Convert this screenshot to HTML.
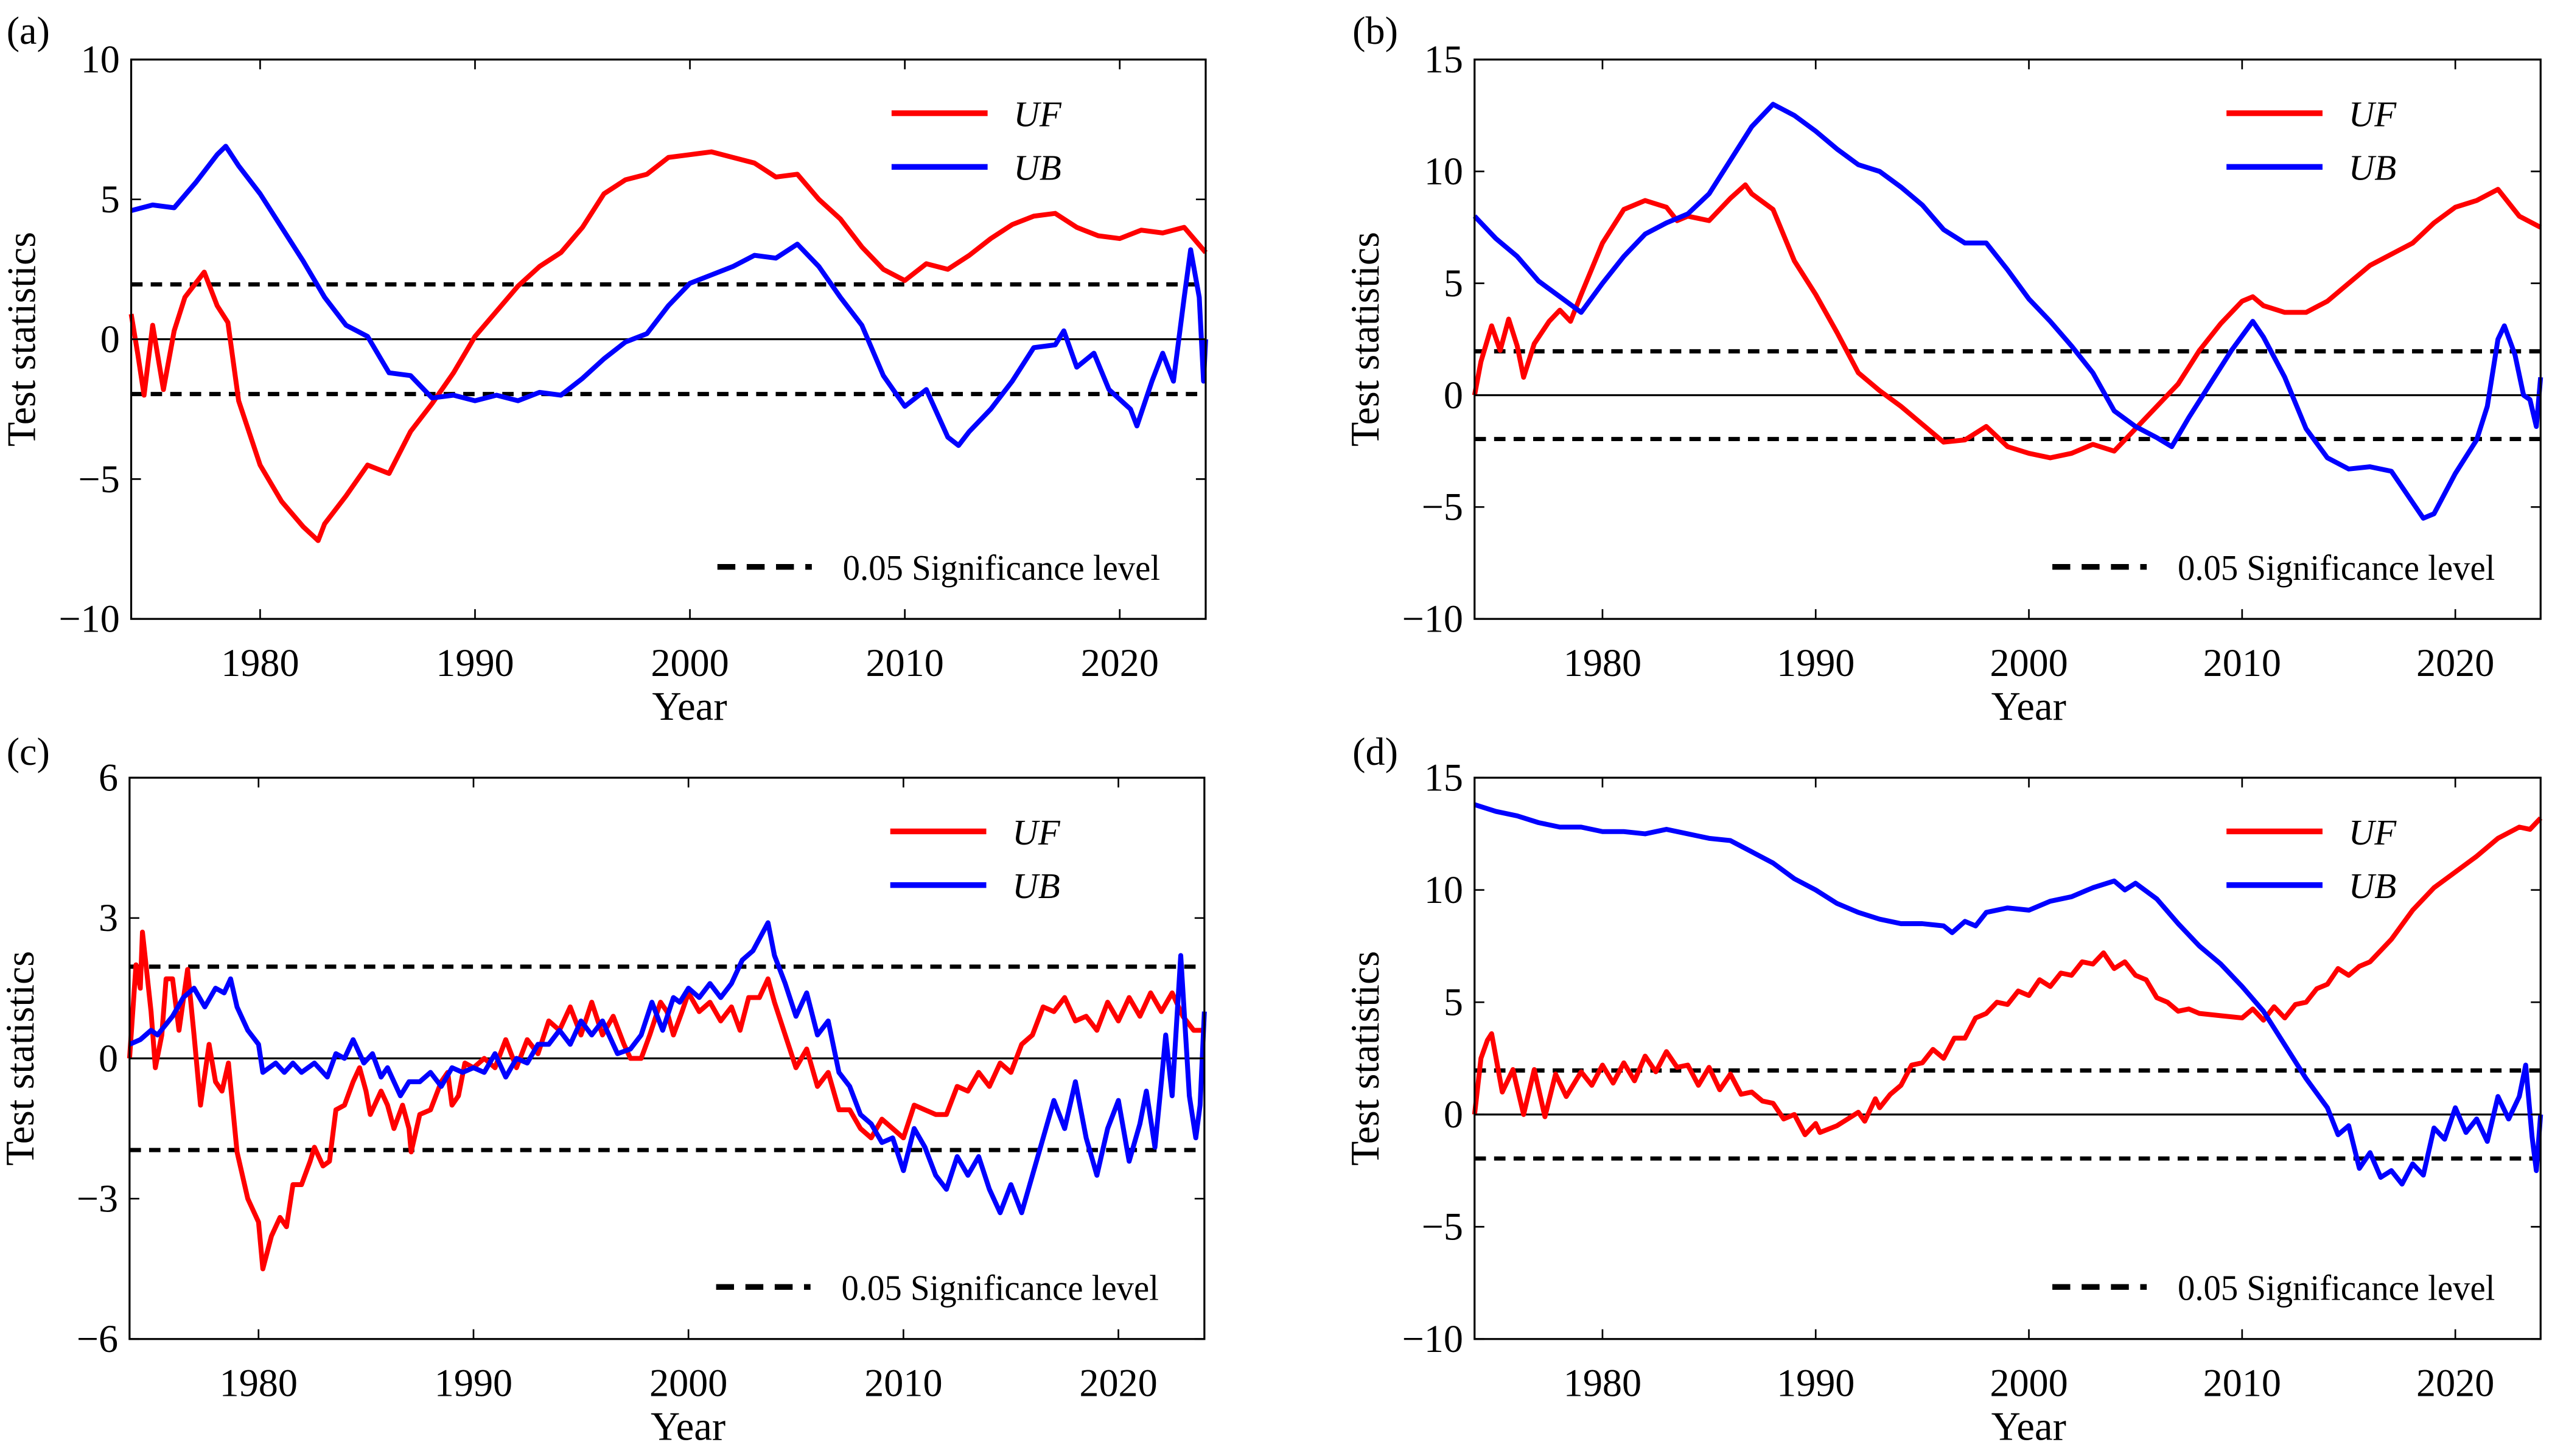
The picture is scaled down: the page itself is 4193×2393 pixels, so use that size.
<!DOCTYPE html>
<html><head><meta charset="utf-8"><style>
html,body{margin:0;padding:0;background:#fff;}
svg{display:block;font-family:"Liberation Serif","DejaVu Serif",serif;}
text{font-family:"Liberation Serif","DejaVu Serif",serif;fill:#000;}
</style></head><body>
<svg id="fig" width="4193" height="2393" viewBox="0 0 1568 894.9" preserveAspectRatio="none" font-family="Liberation Serif, DejaVu Serif, serif" xmlns="http://www.w3.org/2000/svg"></svg>
<script>
// ---------- data ----------
const xTicks = [1980, 1990, 2000, 2010, 2020];
const aYTicks = [-10, -5, 0, 5, 10];
const bYTicks = [-10, -5, 0, 5, 10, 15];
const cYTicks = [-6, -3, 0, 3, 6];
const dYTicks = [-10, -5, 0, 5, 10, 15];
const sigLevel = 1.96;

const aUFx = [1974,1974.3,1974.6,1975,1975.5,1976,1976.5,1977,1977.4,1978,1978.5,1979,1980,1981,1982,1982.7,1983,1983.5,1984,1985,1986,1987,1988,1989,1990,1991,1992,1993,1994,1995,1996,1997,1998,1999,2000,2001,2002,2003,2004,2005,2006,2007,2008,2009,2010,2011,2012,2013,2014,2015,2016,2017,2018,2019,2020,2021,2022,2023,2024];
const aUFy = [0.9,-0.5,-2,0.5,-1.8,0.3,1.5,2,2.4,1.2,0.6,-2.2,-4.5,-5.8,-6.7,-7.2,-6.6,-6.1,-5.6,-4.5,-4.8,-3.3,-2.3,-1.2,0.1,1.0,1.9,2.6,3.1,4.0,5.2,5.7,5.9,6.5,6.6,6.7,6.5,6.3,5.8,5.9,5.0,4.3,3.3,2.5,2.1,2.7,2.5,3.0,3.6,4.1,4.4,4.5,4.0,3.7,3.6,3.9,3.8,4.0,3.1];
const aUBx = [1974,1975,1976,1977,1978,1978.4,1979,1980,1981,1982,1983,1984,1985,1986,1987,1988,1989,1990,1991,1992,1993,1994,1995,1996,1997,1998,1999,2000,2001,2002,2003,2004,2005,2006,2007,2008,2009,2010,2011,2012,2012.5,2013,2014,2015,2016,2017,2017.4,2018,2018.8,2019.5,2020.5,2020.8,2021.5,2022,2022.5,2023,2023.3,2023.7,2023.9,2024];
const aUBy = [4.6,4.8,4.7,5.6,6.6,6.9,6.2,5.2,4.0,2.8,1.5,0.5,0.1,-1.2,-1.3,-2.1,-2.0,-2.2,-2.0,-2.2,-1.9,-2.0,-1.4,-0.7,-0.1,0.2,1.2,2.0,2.3,2.6,3.0,2.9,3.4,2.6,1.5,0.5,-1.3,-2.4,-1.8,-3.5,-3.8,-3.3,-2.5,-1.5,-0.3,-0.2,0.3,-1.0,-0.5,-1.8,-2.5,-3.1,-1.5,-0.5,-1.5,1.5,3.2,1.5,-1.5,0];

const bUFx = [1974,1974.3,1974.8,1975.2,1975.6,1976,1976.3,1976.8,1977.5,1978,1978.5,1979,1980,1981,1982,1983,1983.5,1984,1985,1986,1986.7,1987,1988,1989,1990,1991,1992,1993,1994,1995,1996,1997,1998,1999,2000,2001,2002,2003,2004,2005,2006,2007,2008,2009,2010,2010.5,2011,2012,2013,2014,2015,2016,2017,2018,2019,2020,2021,2022,2023,2024];
const bUFy = [0,1.5,3.1,2.0,3.4,2.2,0.8,2.3,3.3,3.8,3.3,4.5,6.8,8.3,8.7,8.4,7.8,8.0,7.8,8.8,9.4,9.0,8.3,6.0,4.5,2.8,1.0,0.2,-0.5,-1.3,-2.1,-2.0,-1.4,-2.3,-2.6,-2.8,-2.6,-2.2,-2.5,-1.5,-0.5,0.5,2.0,3.2,4.2,4.4,4.0,3.7,3.7,4.2,5.0,5.8,6.3,6.8,7.7,8.4,8.7,9.2,8.0,7.5];
const bUBx = [1974,1975,1976,1977,1978,1979,1980,1981,1982,1983,1984,1985,1986,1987,1988,1989,1990,1991,1992,1993,1994,1995,1996,1997,1998,1999,2000,2001,2002,2003,2004,2005,2006,2006.7,2007.5,2008.5,2009.5,2010.5,2011,2012,2013,2014,2015,2016,2017,2018,2018.5,2019,2020,2021,2021.5,2022,2022.3,2022.8,2023.2,2023.5,2023.8,2024];
const bUBy = [8.0,7.0,6.2,5.1,4.4,3.7,5.0,6.2,7.2,7.7,8.1,9.0,10.5,12.0,13.0,12.5,11.8,11.0,10.3,10.0,9.3,8.5,7.4,6.8,6.8,5.6,4.3,3.3,2.2,1.0,-0.7,-1.4,-1.9,-2.3,-1.0,0.5,2.0,3.3,2.6,0.8,-1.5,-2.8,-3.3,-3.2,-3.4,-4.8,-5.5,-5.3,-3.5,-2.0,-0.5,2.5,3.1,1.8,0,-0.2,-1.4,0.8];

const cUFx = [1974,1974.3,1974.5,1974.6,1975,1975.2,1975.5,1975.7,1976,1976.3,1976.7,1977,1977.3,1977.7,1978,1978.3,1978.6,1979,1979.5,1980,1980.2,1980.6,1981,1981.3,1981.6,1982,1982.4,1982.6,1983,1983.3,1983.6,1984,1984.4,1984.7,1985,1985.2,1985.7,1986,1986.3,1986.7,1987,1987.1,1987.5,1988,1988.5,1988.8,1989,1989.3,1989.6,1990,1990.5,1991,1991.5,1992,1992.5,1993,1993.5,1994,1994.5,1995,1995.5,1996,1996.5,1997,1997.3,1997.8,1998.2,1998.7,1999,1999.3,1999.7,2000,2000.5,2001,2001.5,2002,2002.4,2002.8,2003.3,2003.7,2004,2004.5,2005,2005.5,2006,2006.5,2007,2007.5,2008,2008.5,2009,2009.5,2010,2010.5,2011,2011.5,2012,2012.5,2013,2013.5,2014,2014.5,2015,2015.5,2016,2016.5,2017,2017.5,2018,2018.5,2019,2019.5,2020,2020.5,2021,2021.5,2022,2022.5,2023,2023.5,2024];
const cUFy = [0,2.0,1.5,2.7,1.0,-0.2,0.5,1.7,1.7,0.6,1.9,0.5,-1.0,0.3,-0.5,-0.7,-0.1,-2.0,-3.0,-3.5,-4.5,-3.8,-3.4,-3.6,-2.7,-2.7,-2.2,-1.9,-2.3,-2.2,-1.1,-1.0,-0.5,-0.2,-0.7,-1.2,-0.7,-1.0,-1.5,-1.0,-1.5,-2.0,-1.2,-1.1,-0.5,-0.3,-1.0,-0.8,-0.1,-0.2,0.0,-0.2,0.4,-0.2,0.4,0.1,0.8,0.6,1.1,0.5,1.2,0.5,0.9,0.3,0.0,0.0,0.5,1.2,1.0,0.5,1.0,1.4,1.0,1.2,0.8,1.1,0.6,1.3,1.3,1.7,1.2,0.5,-0.2,0.2,-0.6,-0.3,-1.1,-1.1,-1.5,-1.7,-1.3,-1.5,-1.7,-1.0,-1.1,-1.2,-1.2,-0.6,-0.7,-0.3,-0.6,-0.1,-0.3,0.3,0.5,1.1,1.0,1.3,0.8,0.9,0.6,1.2,0.8,1.3,0.9,1.4,1.0,1.4,0.9,0.6,0.6];
const cUBx = [1974,1974.5,1975,1975.3,1976,1976.5,1977,1977.5,1978,1978.4,1978.7,1979,1979.5,1980,1980.2,1980.8,1981.2,1981.6,1982,1982.6,1983.2,1983.6,1984,1984.4,1984.9,1985.3,1985.7,1986,1986.6,1987,1987.5,1988,1988.5,1989,1989.5,1990,1990.5,1991,1991.5,1992,1992.5,1993,1993.5,1994,1994.5,1995,1995.5,1996,1996.7,1997.3,1997.8,1998.3,1998.8,1999.3,1999.6,2000,2000.5,2001,2001.5,2002,2002.5,2003,2003.7,2004,2004.5,2005,2005.5,2006,2006.5,2007,2007.5,2008,2008.5,2009,2009.5,2010,2010.5,2011,2011.5,2012,2012.5,2013,2013.5,2014,2014.5,2015,2015.5,2016,2016.5,2017,2017.5,2018,2018.5,2019,2019.5,2020,2020.5,2021,2021.3,2021.7,2022,2022.2,2022.5,2022.9,2023.3,2023.6,2023.8,2024];
const cUBy = [0.3,0.4,0.6,0.5,0.9,1.3,1.5,1.1,1.5,1.4,1.7,1.1,0.6,0.3,-0.3,-0.1,-0.3,-0.1,-0.3,-0.1,-0.4,0.1,0.0,0.4,-0.1,0.1,-0.4,-0.2,-0.8,-0.5,-0.5,-0.3,-0.6,-0.2,-0.3,-0.2,-0.3,0.1,-0.4,0.0,-0.1,0.3,0.3,0.6,0.3,0.8,0.5,0.8,0.1,0.2,0.5,1.2,0.6,1.3,1.2,1.5,1.3,1.6,1.3,1.6,2.1,2.3,2.9,2.2,1.6,0.9,1.4,0.5,0.8,-0.3,-0.6,-1.2,-1.4,-1.8,-1.7,-2.4,-1.5,-1.9,-2.5,-2.8,-2.1,-2.5,-2.1,-2.8,-3.3,-2.7,-3.3,-2.5,-1.7,-0.9,-1.5,-0.5,-1.7,-2.5,-1.5,-0.9,-2.2,-1.4,-0.7,-1.9,-0.5,0.5,-0.8,2.2,-0.8,-1.7,-1.0,1.0];

const dUFx = [1974,1974.3,1974.6,1974.8,1975.3,1975.8,1976.3,1976.8,1977.3,1977.8,1978.3,1979,1979.5,1980,1980.5,1981,1981.5,1982,1982.5,1983,1983.5,1984,1984.5,1985,1985.5,1986,1986.5,1987,1987.5,1988,1988.5,1989,1989.5,1990,1990.2,1991,1991.5,1992,1992.3,1992.8,1993,1993.5,1994,1994.5,1995,1995.5,1996,1996.5,1997,1997.5,1998,1998.5,1999,1999.5,2000,2000.5,2001,2001.5,2002,2002.5,2003,2003.5,2004,2004.5,2005,2005.5,2006,2006.5,2007,2007.5,2008,2009,2010,2010.5,2011,2011.5,2012,2012.5,2013,2013.5,2014,2014.5,2015,2015.5,2016,2017,2018,2019,2020,2021,2022,2023,2023.5,2024];
const dUFy = [0,2.5,3.3,3.6,1.0,2.0,0,2.0,-0.1,1.8,0.8,1.9,1.3,2.2,1.4,2.3,1.5,2.6,1.9,2.8,2.1,2.2,1.3,2.1,1.1,1.8,0.9,1.0,0.6,0.5,-0.2,0,-0.9,-0.4,-0.8,-0.5,-0.2,0.1,-0.3,0.7,0.3,0.9,1.3,2.2,2.3,2.9,2.5,3.4,3.4,4.3,4.5,5.0,4.9,5.5,5.3,6.0,5.7,6.3,6.2,6.8,6.7,7.2,6.5,6.8,6.2,6.0,5.2,5.0,4.6,4.7,4.5,4.4,4.3,4.7,4.2,4.8,4.3,4.9,5.0,5.6,5.8,6.5,6.2,6.6,6.8,7.8,9.1,10.1,10.8,11.5,12.3,12.8,12.7,13.2];
const dUBx = [1974,1975,1976,1977,1978,1979,1980,1981,1982,1983,1984,1985,1986,1987,1988,1989,1990,1991,1992,1993,1994,1995,1996,1996.4,1997,1997.5,1998,1999,2000,2001,2002,2003,2004,2004.5,2005,2006,2007,2008,2009,2010,2011,2012,2013,2014,2014.5,2015,2015.5,2016,2016.5,2017,2017.5,2018,2018.5,2019,2019.5,2020,2020.5,2021,2021.5,2022,2022.5,2023,2023.3,2023.6,2023.8,2024];
const dUBy = [13.8,13.5,13.3,13.0,12.8,12.8,12.6,12.6,12.5,12.7,12.5,12.3,12.2,11.7,11.2,10.5,10.0,9.4,9.0,8.7,8.5,8.5,8.4,8.1,8.6,8.4,9.0,9.2,9.1,9.5,9.7,10.1,10.4,10.0,10.3,9.6,8.5,7.5,6.7,5.7,4.6,3.1,1.6,0.3,-0.9,-0.5,-2.4,-1.7,-2.8,-2.5,-3.1,-2.2,-2.7,-0.6,-1.1,0.3,-0.8,-0.2,-1.2,0.8,-0.2,0.8,2.2,-1.0,-2.5,0];

// ---------- drawing ----------
const NS = 'http://www.w3.org/2000/svg';
const svg = document.getElementById('fig');
const SERIF = '"Liberation Serif", "DejaVu Serif", serif';
function mk(tag, attrs, parent) {
  const e = document.createElementNS(NS, tag);
  for (const k in attrs) e.setAttribute(k, attrs[k]);
  if (tag === 'text') e.style.fontFamily = SERIF;
  (parent || svg).appendChild(e);
  return e;
}
function fmt(v){ return v < 0 ? '\u2212' + Math.abs(v) : String(v); }

const panels = [
  {id:'a', label:'(a)', L:80.6, R:740.8, T:36.6, B:380.4, yMin:-10, yMax:10, yT:aYTicks, uf:[aUFx,aUFy], ub:[aUBx,aUBy], lx:4, ly:27},
  {id:'b', label:'(b)', L:906, R:1561, T:36.6, B:380.4, yMin:-10, yMax:15, yT:bYTicks, uf:[bUFx,bUFy], ub:[bUBx,bUBy], lx:831, ly:27},
  {id:'c', label:'(c)', L:79.6, R:740, T:478, B:823, yMin:-6, yMax:6, yT:cYTicks, uf:[cUFx,cUFy], ub:[cUBx,cUBy], lx:4, ly:470},
  {id:'d', label:'(d)', L:906, R:1561, T:478, B:823, yMin:-10, yMax:15, yT:dYTicks, uf:[dUFx,dUFy], ub:[dUBx,dUBy], lx:831, ly:470}
];

panels.forEach(p => {
  const g = mk('g', {});
  
  
  const xs = v => p.L + (v - 1974) / 50 * (p.R - p.L);
  const ys = v => p.B - (v - p.yMin) / (p.yMax - p.yMin) * (p.B - p.T);

  const lab = mk('text', {x:p.lx, y:p.ly, 'font-size':24}, g);
  lab.textContent = p.label;
  
  

  const z = mk('line', {x1:p.L, x2:p.R, y1:ys(0), y2:ys(0), stroke:'#000', 'stroke-width':1.2}, g);
  
  
  [sigLevel, -sigLevel].forEach(s => {
    const d = mk('line', {x1:p.L, x2:p.R, y1:ys(s), y2:ys(s), stroke:'#000', 'stroke-width':2.6, 'stroke-dasharray':'7,5'}, g);
    
    
  });

  const path = (arr) => arr[0].map((x,i) => (i?'L':'M') + xs(x).toFixed(2) + ',' + ys(arr[1][i]).toFixed(2)).join(' ');
  const uf = mk('path', {d:path(p.uf), fill:'none', stroke:'#ff0000', 'stroke-width':3, 'stroke-linejoin':'round'}, g);
  
  
  const ub = mk('path', {d:path(p.ub), fill:'none', stroke:'#0000ff', 'stroke-width':3, 'stroke-linejoin':'round'}, g);
  
  

  const fr = mk('rect', {x:p.L, y:p.T, width:p.R-p.L, height:p.B-p.T, fill:'none', stroke:'#000', 'stroke-width':1.2}, g);
  
  

  xTicks.forEach(t => {
    const x = xs(t);
    mk('line', {x1:x, x2:x, y1:p.B, y2:p.B-6, stroke:'#000', 'stroke-width':1}, g);
    mk('line', {x1:x, x2:x, y1:p.T, y2:p.T+6, stroke:'#000', 'stroke-width':1}, g);
    const tl = mk('text', {x:x, y:p.B+35, 'font-size':24, 'text-anchor':'middle'}, g);
    tl.textContent = t;
    
    
  });
  p.yT.forEach(t => {
    const y = ys(t);
    mk('line', {x1:p.L, x2:p.L+6, y1:y, y2:y, stroke:'#000', 'stroke-width':1}, g);
    mk('line', {x1:p.R, x2:p.R-6, y1:y, y2:y, stroke:'#000', 'stroke-width':1}, g);
    const tl = mk('text', {x:p.L-7, y:y+8, 'font-size':24, 'text-anchor':'end'}, g);
    tl.textContent = fmt(t);
    
    
  });

  const xt = mk('text', {x:(p.L+p.R)/2 + 13, y:p.B+62, 'font-size':25, 'text-anchor':'middle'}, g);
  xt.textContent = 'Year';
  
  
  const ycx = p.L - 59, ycy = (p.T + p.B) / 2;
  const yt = mk('text', {x:ycx, y:ycy, 'font-size':25, 'text-anchor':'middle', transform:'rotate(-90 '+ycx+' '+ycy+')', textLength:132, lengthAdjust:'spacingAndGlyphs'}, g);
  yt.textContent = 'Test statistics';
  
  

  const lx0 = p.R - 193, lyUF = p.T + 33, lyUB = p.T + 66;
  const l1 = mk('line', {x1:lx0, x2:lx0+59, y1:lyUF, y2:lyUF, stroke:'#ff0000', 'stroke-width':3.5}, g);
  
  
  const t1 = mk('text', {x:lx0+75, y:lyUF+8, 'font-size':22, 'font-style':'italic'}, g);
  t1.textContent = 'UF';
  
  
  const l2 = mk('line', {x1:lx0, x2:lx0+59, y1:lyUB, y2:lyUB, stroke:'#0000ff', 'stroke-width':3.5}, g);
  
  
  const t2 = mk('text', {x:lx0+75, y:lyUB+8, 'font-size':22, 'font-style':'italic'}, g);
  t2.textContent = 'UB';
  
  

  const sy = p.B - 32, sx0 = p.R - 300;
  const l3 = mk('line', {x1:sx0, x2:sx0+58, y1:sy, y2:sy, stroke:'#000', 'stroke-width':3.5, 'stroke-dasharray':'11,7'}, g);
  
  
  const t3 = mk('text', {x:sx0+77, y:sy+8, 'font-size':22, textLength:195, lengthAdjust:'spacingAndGlyphs'}, g);
  t3.textContent = '0.05 Significance level';
  
  
});
</script>
</body></html>
